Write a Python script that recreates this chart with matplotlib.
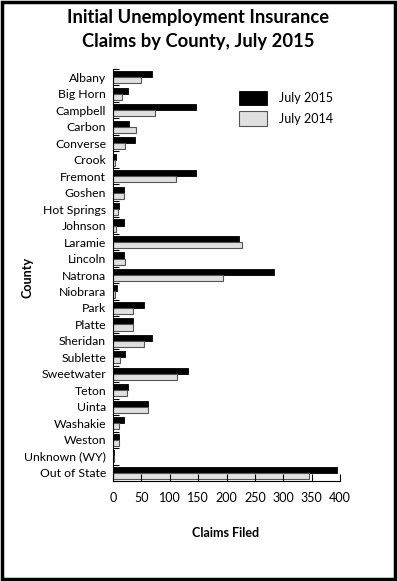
import matplotlib
matplotlib.use("Agg")
import matplotlib.pyplot as plt
from matplotlib.patches import Rectangle
import numpy as np

plt.rcParams['font.family'] = ['Lato', 'DejaVu Sans']

# data
counties = ["Albany", "Big Horn", "Campbell", "Carbon", "Converse", "Crook",
            "Fremont", "Goshen", "Hot Springs", "Johnson", "Laramie", "Lincoln",
            "Natrona", "Niobrara", "Park", "Platte", "Sheridan", "Sublette",
            "Sweetwater", "Teton", "Uinta", "Washakie", "Weston",
            "Unknown (WY)", "Out of State"]
jul2015 = [69, 27, 146, 29, 39, 6, 147, 20, 10, 19, 222, 20, 284, 7, 55, 36,
           69, 22, 132, 27, 62, 19, 11, 1, 395]
jul2014 = [49, 16, 74, 40, 21, 3, 111, 20, 9, 5, 228, 22, 193, 3, 35, 36,
           54, 12, 113, 25, 62, 10, 10, 1, 345]
xticks = [0, 50, 100, 150, 200, 250, 300, 350, 400]

fig = plt.figure(figsize=(3.97, 5.81), dpi=100)
ax = fig.add_axes([113/397, 1 - 481/581, 227/397, 412/581])

n = len(counties)
y = np.arange(n)
h = 0.37
ax.barh(y - h/2, jul2015, height=h, color="black", edgecolor="black",
        linewidth=0.6, label="July 2015")
ax.barh(y + h/2, jul2014, height=h, color="#e0e0e0", edgecolor="#555555",
        linewidth=0.8, label="July 2014")

ax.set_ylim(n - 0.5, -0.5)
ax.set_xlim(0, 400)
ax.set_yticks(y)
ax.set_yticklabels(counties, fontsize=8.8)
ax.set_yticks(np.arange(n + 1) - 0.5, minor=True)
ax.tick_params(axis="y", which="major", length=0, pad=5)
ax.tick_params(axis="y", which="minor", direction="in", length=4, width=0.8)
ax.set_xticks(xticks)
ax.tick_params(axis="x", direction="in", length=5, width=0.8, labelsize=9, pad=8)
for s in ["top", "right"]:
    ax.spines[s].set_visible(False)
ax.spines["left"].set_linewidth(0.8)
ax.spines["bottom"].set_linewidth(0.8)

ax.set_xlabel("Claims Filed", fontsize=9, fontweight="bold")
ax.xaxis.set_label_coords(0.498, -0.112)
ax.set_ylabel("County", fontsize=9, fontweight="bold")
ax.yaxis.set_label_coords(-0.352, 0.493)

leg = ax.legend(loc="upper right", bbox_to_anchor=(1.02, 0.975), frameon=False,
                fontsize=9, handlelength=2.2, handleheight=1.4,
                labelspacing=0.5, handletextpad=1.0)

fig.text(0.5, 1 - 18/581, "Initial Unemployment Insurance", ha="center",
         va="center", fontsize=13.2, fontweight="bold")
fig.text(0.5, 1 - 42/581, "Claims by County, July 2015", ha="center",
         va="center", fontsize=13.2, fontweight="bold")

# border around the whole figure
fig.patches.append(Rectangle((0.004, 0.003), 0.992, 0.994, transform=fig.transFigure,
                             fill=False, edgecolor="black", linewidth=2.5))

fig.savefig("out.png", dpi=100)
